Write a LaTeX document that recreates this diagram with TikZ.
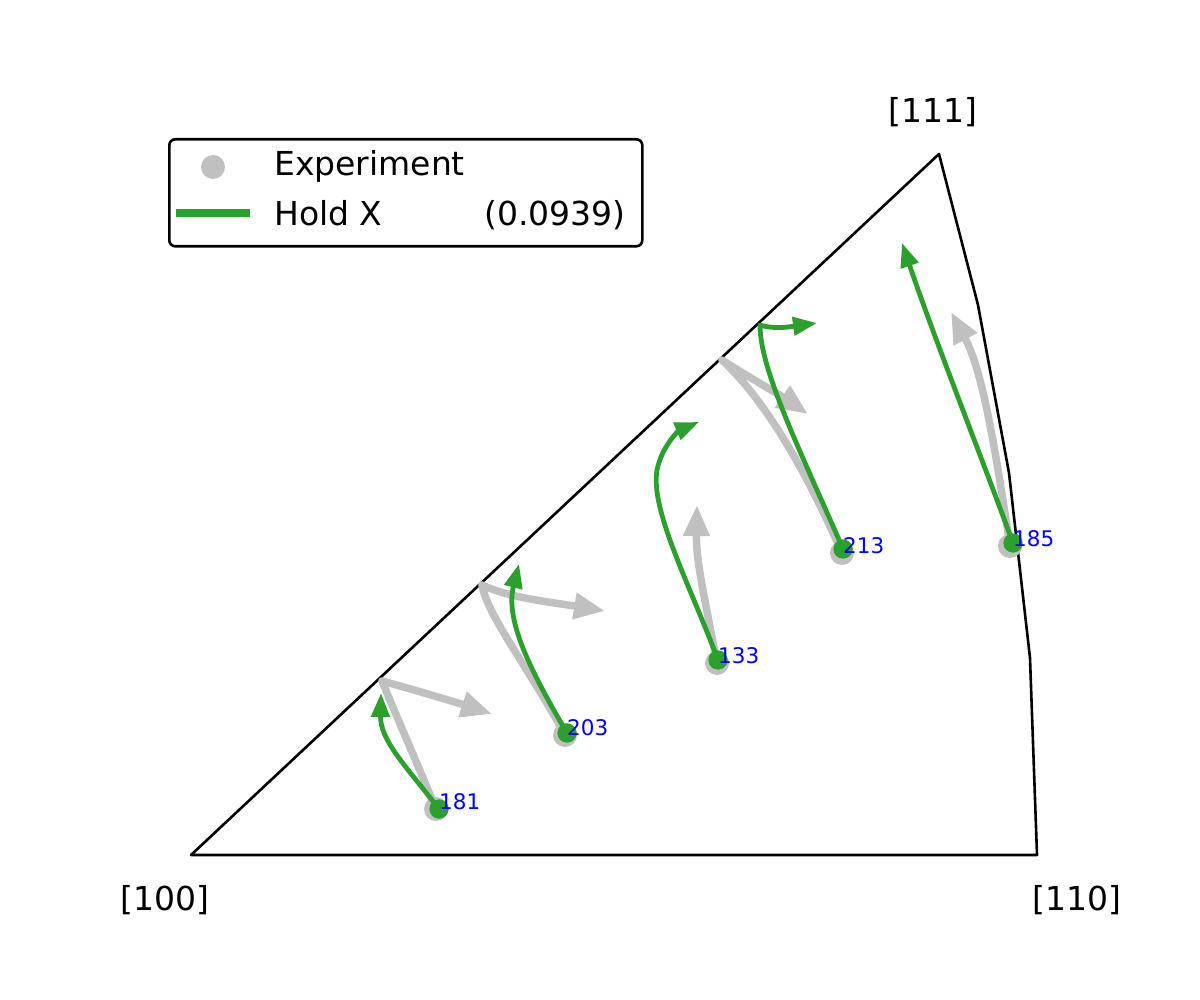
\documentclass[tikz,border=0pt]{standalone}
\usepackage{fontspec}
\setmainfont{DejaVu Sans}
\usetikzlibrary{arrows.meta}
\definecolor{expgray}{HTML}{C0C0C0}
\definecolor{simgreen}{HTML}{2CA02C}
\definecolor{lblblue}{HTML}{0000FF}
\begin{document}
\begin{tikzpicture}[x=1pt,y=-1pt,
  frameline/.style={line width=2.6pt,black,line join=round},
  grayarrow/.style={expgray,line width=7.5pt,line join=round,line cap=round,-{Triangle[length=31pt,width=25pt]}},
  greenarrow/.style={simgreen,line width=4.8pt,line join=round,line cap=round,-{Triangle[length=24pt,width=18pt]}},
  graydot/.style={circle,fill=expgray,inner sep=0pt,minimum size=24pt},
  greendot/.style={circle,fill=simgreen,inner sep=0pt,minimum size=19pt},
  biglabel/.style={font=\fontsize{33}{40}\selectfont,inner sep=0pt},
  numlabel/.style={font=\fontsize{21.5}{25}\selectfont,text=lblblue,inner sep=0pt,anchor=base west},
  legendbox/.style={draw=black,line width=2.6pt,rounded corners=6pt,fill=white}
]
\useasboundingbox (0,0) rectangle (1200,1000);
% triangle frame
\coordinate (p100) at (191,855);
\coordinate (p111) at (939,154);
\coordinate (q1) at (978,305);
\coordinate (q2) at (1009,473);
\coordinate (q3) at (1030,658);
\coordinate (p110) at (1037,855);
\draw[frameline] (p100) -- (p111) -- (q1) -- (q2) -- (q3) -- (p110) -- cycle;
\node[biglabel,anchor=base] (l111) at (933,123) {[111]};
\node[biglabel,anchor=base] (l100) at (165,910) {[100]};
\node[biglabel,anchor=base] (l110) at (1077,910) {[110]};
% experiment dots
\node[graydot] (e181) at (436,809) {};
\node[graydot] (e203) at (565,735) {};
\node[graydot] (e133) at (717,663) {};
\node[graydot] (e213) at (842,553) {};
\node[graydot] (e185) at (1010,546) {};
% gray arrow corners and tips
\coordinate (c181) at (382,681);
\coordinate (t181) at (492,714);
\coordinate (c203) at (482,585);
\coordinate (t203) at (605,611);
\coordinate (t133) at (697,505);
\coordinate (c213) at (722,360);
\coordinate (t213) at (808,414);
\coordinate (t185) at (951,312);
\draw[grayarrow] (e181.center) .. controls (420,770) and (398,720) .. (c181) .. controls (415,690) and (455,702) .. (t181);
\draw[grayarrow] (e203.center) .. controls (530,670) and (487,615) .. (c203) .. controls (510,598) and (550,602) .. (t203);
\draw[grayarrow] (e133.center) .. controls (703,590) and (696,560) .. (t133);
\draw[grayarrow] (e213.center) .. controls (810,480) and (770,405) .. (c213) .. controls (750,378) and (780,395) .. (t213);
\draw[grayarrow] (e185.center) .. controls (994,440) and (982,370) .. (t185);
% green dots (model)
\node[greendot] (m181) at (439,809) {};
\node[greendot] (m203) at (567,733) {};
\node[greendot] (m133) at (718,660) {};
\node[greendot] (m213) at (843,549) {};
\node[greendot] (m185) at (1013,543) {};
% green arrows
\coordinate (s181) at (381,693);
\coordinate (s203) at (519,564);
\coordinate (k133) at (657,470);
\coordinate (s133) at (699,422);
\coordinate (k213) at (760,325);
\coordinate (s213) at (817,323);
\coordinate (s185) at (902,243);
\draw[greenarrow] (m181.center) .. controls (405,765) and (380,740) .. (s181);
\draw[greenarrow] (m203.center) .. controls (530,670) and (505,620) .. (s203);
\draw[greenarrow] (m133.center) .. controls (690,585) and (650,510) .. (k133) .. controls (662,445) and (680,430) .. (s133);
\draw[greenarrow] (m213.center) .. controls (800,450) and (760,370) .. (k213) .. controls (775,330) and (795,326) .. (s213);
\draw[greenarrow] (m185.center) .. controls (975,440) and (935,340) .. (s185);
\fill[simgreen] (m181) circle (9.5);
\fill[simgreen] (m203) circle (9.5);
\fill[simgreen] (m133) circle (9.5);
\fill[simgreen] (m213) circle (9.5);
\fill[simgreen] (m185) circle (9.5);
% number labels
\node[numlabel] (n181) at (439,809) {181};
\node[numlabel] (n203) at (567,735) {203};
\node[numlabel] (n133) at (718,663) {133};
\node[numlabel] (n213) at (843,553) {213};
\node[numlabel] (n185) at (1013,546) {185};
% legend
\node[legendbox,minimum width=473pt,minimum height=107pt,anchor=north west] (legend) at (168,138) {};
\node[graydot] (legdot) at (213,167) {};
\coordinate (lgA) at (176,213);
\coordinate (lgB) at (250,213);
\draw[simgreen,line width=7.5pt] (lgA) -- (lgB);
\node[biglabel,anchor=base west] (legexp) at (274,176) {Experiment};
\node[biglabel,anchor=base west] (leghold) at (274,226) {Hold X};
\node[biglabel,anchor=base east] (legval) at (626,226) {(0.0939)};
\end{tikzpicture}
\end{document}
